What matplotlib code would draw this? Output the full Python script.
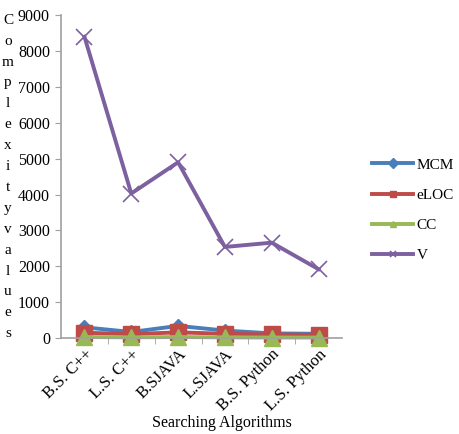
import matplotlib
matplotlib.use("Agg")
import matplotlib.pyplot as plt
from matplotlib.ticker import FixedLocator

algorithms = ["B.S. C++", "L.S. C++", "B.SJAVA", "L.SJAVA", "B.S. Python", "L.S. Python"]
mcm = [300, 170, 340, 210, 130, 120]
eloc = [150, 110, 160, 120, 100, 90]
cc = [30, 20, 30, 20, 15, 15]
v = [8400, 4030, 4900, 2540, 2660, 1920]
y_ticks = [0, 1000, 2000, 3000, 4000, 5000, 6000, 7000, 8000, 9000]

plt.rcParams['font.family'] = ['Liberation Serif', 'DejaVu Serif']

fig = plt.figure(figsize=(4.59, 4.34), dpi=100)
ax = fig.add_axes([0.133, 0.221, 0.612, 0.744])

x = list(range(len(algorithms)))
ax.plot(x, mcm, color='#4A7EBB', lw=2.8, marker='D', ms=7, label='MCM', clip_on=False)
ax.plot(x, eloc, color='#BE4B48', lw=2.8, marker='s', ms=11, label='eLOC', clip_on=False)
ax.plot(x, cc, color='#98B954', lw=2.8, marker='^', ms=12, label='CC', clip_on=False)
ax.plot(x, v, color='#7D60A0', lw=2.8, marker='x', ms=11, mew=1.2, label='V')

ax.set_xlim(-0.5, len(algorithms) - 0.5)
ax.set_ylim(0, 9000)
ax.set_yticks(y_ticks)
ax.set_xticks(x)
ax.set_xticklabels(algorithms, rotation=45, ha='right', rotation_mode='anchor', fontsize=12)
ax.tick_params(axis='x', length=0, pad=6)
ax.xaxis.set_minor_locator(FixedLocator([i + 0.5 for i in x[:-1]]))
ax.tick_params(axis='x', which='minor', length=4, color='#A0A0A0', direction='out')
ax.tick_params(axis='y', labelsize=11.5, length=4, color='#A0A0A0', pad=4)

for side in ['top', 'right']:
    ax.spines[side].set_visible(False)
for side in ['left', 'bottom']:
    ax.spines[side].set_color('#A0A0A0')
    ax.spines[side].set_linewidth(1.2)

fig.text(222 / 459, 1 - 423 / 434, 'Searching Algorithms', ha='center', va='center', fontsize=11.5)
fig.text(8 / 459, 1 - 177 / 434, '\n'.join('Complexityvalues'), ha='center', va='center',
         fontsize=11, linespacing=1.79)

leg = ax.legend(loc='center left', bbox_to_anchor=(1.0, 0.396), frameon=False, fontsize=11,
                handlelength=2.7, labelspacing=1.08, handletextpad=0.2, borderaxespad=1.57)
for line in leg.get_lines():
    line.set_markersize(5)

fig.savefig('out.png', dpi=100)
